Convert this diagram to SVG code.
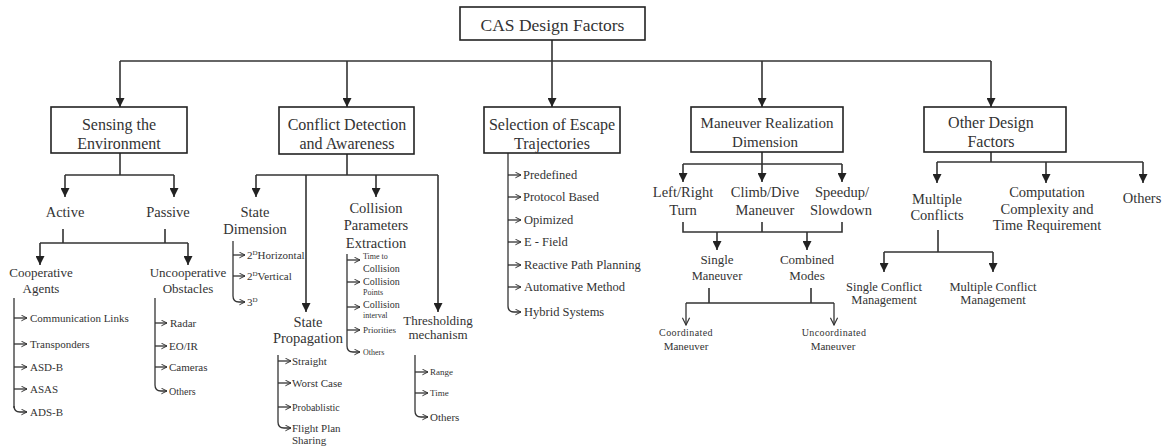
<svg xmlns="http://www.w3.org/2000/svg" width="1171" height="447" viewBox="0 0 1171 447">
<defs>
<marker id="tri" viewBox="0 0 10 10" refX="10" refY="5" markerWidth="9" markerHeight="9" markerUnits="userSpaceOnUse" orient="auto"><path d="M0,0 L10,5 L0,10 z" fill="#222"/></marker>
<marker id="chev" viewBox="0 0 10 10" refX="9" refY="5" markerWidth="7" markerHeight="7" markerUnits="userSpaceOnUse" orient="auto"><path d="M1,1 L9,5 L1,9" fill="none" stroke="#333" stroke-width="1.4"/></marker>
<marker id="vee" viewBox="0 0 10 10" refX="9" refY="5" markerWidth="9" markerHeight="9" markerUnits="userSpaceOnUse" orient="auto"><path d="M1,1 L9,5 L1,9" fill="none" stroke="#333" stroke-width="1.3"/></marker>
</defs>
<style>
text{font-family:"Liberation Serif","Times New Roman",serif;fill:#333;text-anchor:middle}
.box{fill:#fff;stroke:#222;stroke-width:1.6}
.ln{fill:none;stroke:#333;stroke-width:1.6}
.ar{fill:none;stroke:#333;stroke-width:1.6;marker-end:url(#tri)}
.li{fill:none;stroke:#333;stroke-width:1.3}
.la{fill:none;stroke:#333;stroke-width:1.3;marker-end:url(#chev)}
.va{fill:none;stroke:#333;stroke-width:1.3;marker-end:url(#vee)}
.b16{font-size:16px}
.t14{font-size:14.5px}
.t13{font-size:13px}
.t12{font-size:12.5px}
.t11{font-size:11px}
.t10{font-size:10px}
.t9{font-size:9px}
.t8{font-size:8px}
.l{text-anchor:start}
</style>

<g id="connectors">
<!-- top trunk -->
<path class="ar" d="M552 40 V107"/>
<path class="ln" d="M120 61 H991"/>
<path class="ar" d="M120 61 V107"/>
<path class="ar" d="M347 61 V107"/>
<path class="ar" d="M762 61 V107"/>
<path class="ar" d="M991 61 V107"/>
<!-- sensing -->
<path class="ln" d="M120 153 V175 M65 175 H174"/>
<path class="ar" d="M65 175 V197"/>
<path class="ar" d="M174 175 V197"/>
<path class="ln" d="M63 229 V243 M165 229 V243 M40 243 H188"/>
<path class="ar" d="M40 243 V265"/>
<path class="ar" d="M188 243 V265"/>
<path class="li" d="M14 298 V408"/>
<path class="la" d="M14 318 H27"/>
<path class="la" d="M14 344 H27"/>
<path class="la" d="M14 367 H27"/>
<path class="la" d="M14 389 H27"/>
<path class="la" d="M14 406 Q14 412 20 412 H27"/>
<path class="li" d="M155 298 V385"/>
<path class="la" d="M155 323 H167"/>
<path class="la" d="M155 346 H167"/>
<path class="la" d="M155 367 H167"/>
<path class="la" d="M155 385 Q155 391 161 391 H167"/>
<!-- conflict detection -->
<path class="ln" d="M347 154 V175 M256 175 H438"/>
<path class="ar" d="M256 175 V197"/>
<path class="ar" d="M376 175 V197"/>
<path class="ar" d="M306 175 V312"/>
<path class="ar" d="M438 175 V312"/>
<path class="li" d="M233 241 V296"/>
<path class="la" d="M233 255 H245"/>
<path class="la" d="M233 276 H245"/>
<path class="la" d="M233 296 Q233 302 239 302 H245"/>
<path class="li" d="M347 254 V346"/>
<path class="la" d="M347 260 H360"/>
<path class="la" d="M347 282 H360"/>
<path class="la" d="M347 307 H360"/>
<path class="la" d="M347 330 H360"/>
<path class="la" d="M347 346 Q347 352 353 352 H360"/>
<path class="li" d="M278 355 V422"/>
<path class="la" d="M278 361 H291"/>
<path class="la" d="M278 383 H291"/>
<path class="la" d="M278 407 H291"/>
<path class="la" d="M278 422 Q278 428 284 428 H291"/>
<path class="li" d="M415 355 V411"/>
<path class="la" d="M415 372 H428"/>
<path class="la" d="M415 393 H428"/>
<path class="la" d="M415 411 Q415 417 421 417 H428"/>
<!-- selection of escape -->
<path class="li" d="M508 153 V306"/>
<path class="la" d="M508 175 H521"/>
<path class="la" d="M508 197 H521"/>
<path class="la" d="M508 220 H521"/>
<path class="la" d="M508 242 H521"/>
<path class="la" d="M508 265 H521"/>
<path class="la" d="M508 287 H521"/>
<path class="la" d="M508 306 Q508 312 514 312 H521"/>
<!-- maneuver -->
<path class="ln" d="M762 152 V164 M683 164 H842"/>
<path class="ar" d="M683 164 V182"/>
<path class="ar" d="M762 164 V182"/>
<path class="ar" d="M842 164 V182"/>
<path class="ln" d="M683 222 V232 H842 V222 M762 232 V222"/>
<path class="ar" d="M717 232 V250"/>
<path class="ar" d="M807 232 V250"/>
<path class="ln" d="M709 288 V303 M811 288 V303 M686 303 H834"/>
<path class="va" d="M686 303 V325"/>
<path class="va" d="M834 303 V325"/>
<!-- other -->
<path class="ln" d="M991 152 V162 M937 162 H1143"/>
<path class="ar" d="M937 162 V183"/>
<path class="ar" d="M1046 162 V183"/>
<path class="ar" d="M1143 162 V183"/>
<path class="ln" d="M938 230 V252 M884 252 H993"/>
<path class="ar" d="M884 252 V272"/>
<path class="ar" d="M993 252 V272"/>
</g>

<g id="root"><rect class="box" x="460" y="7" width="185" height="33"/><text x="552.5" y="31" style="font-size:17.5px">CAS Design Factors</text></g>

<g id="sensing"><rect class="box" x="51" y="107" width="136" height="46"/><text class="b16" x="119" y="130">Sensing the</text><text class="b16" x="119" y="149">Environment</text></g>
<g id="conflict"><rect class="box" x="279" y="107" width="135" height="47"/><text class="b16" x="347" y="130">Conflict Detection</text><text class="b16" x="347" y="149">and Awareness</text></g>
<g id="selection"><rect class="box" x="484" y="107" width="136" height="46"/><text class="b16" x="552" y="130">Selection of Escape</text><text class="b16" x="552" y="149">Trajectories</text></g>
<g id="maneuver"><rect class="box" x="691" y="107" width="152" height="45"/><text x="767" y="128" style="font-size:15px">Maneuver Realization</text><text x="765" y="147" style="font-size:15px">Dimension</text></g>
<g id="other"><rect class="box" x="924" y="107" width="142" height="45"/><text class="b16" x="991" y="128">Other Design</text><text class="b16" x="991" y="147">Factors</text></g>

<g id="active"><text class="t14" x="65" y="217">Active</text></g>
<g id="passive"><text class="t14" x="168" y="217">Passive</text></g>
<g id="cooperative"><text class="t13" x="41" y="277">Cooperative</text><text class="t13" x="41" y="293">Agents</text></g>
<g id="uncooperative"><text class="t13" x="188" y="277">Uncooperative</text><text class="t13" x="188" y="293">Obstacles</text></g>
<g id="coop-list">
<text class="t11 l" x="30" y="322">Communication Links</text>
<text class="t11 l" x="30" y="348">Transponders</text>
<text class="t11 l" x="30" y="371">ASD-B</text>
<text class="t11 l" x="30" y="393">ASAS</text>
<text class="t11 l" x="30" y="416">ADS-B</text>
</g>
<g id="uncoop-list">
<text class="t11 l" x="170" y="327">Radar</text>
<text class="t11 l" x="169" y="350">EO/IR</text>
<text class="t11 l" x="169" y="371">Cameras</text>
<text class="t10 l" x="169" y="395">Others</text>
</g>

<g id="state-dim"><text class="t14" x="255" y="217">State</text><text class="t14" x="255" y="234">Dimension</text></g>
<g id="state-dim-list">
<text class="t11 l" x="247" y="259">2<tspan font-size="7" dy="-4">D</tspan><tspan dy="4">Horizontal</tspan></text>
<text class="t11 l" x="247" y="280">2<tspan font-size="7" dy="-4">D</tspan><tspan dy="4">Vertical</tspan></text>
<text class="t11 l" x="247" y="306">3<tspan font-size="7" dy="-4">D</tspan></text>
</g>
<g id="collision"><text class="t14" x="376" y="213">Collision</text><text class="t14" x="376" y="230">Parameters</text><text class="t14" x="376" y="248">Extraction</text></g>
<g id="collision-list">
<text class="t8 l" x="363" y="259">Time to</text>
<text class="t10 l" x="363" y="272">Collision</text>
<text class="t10 l" x="363" y="285">Collision</text>
<text class="t8 l" x="363" y="295">Points</text>
<text class="t10 l" x="363" y="308">Collision</text>
<text class="t8 l" x="363" y="318">interval</text>
<text class="t9 l" x="363" y="333">Priorities</text>
<text class="t8 l" x="363" y="355">Others</text>
</g>
<g id="state-prop"><text class="t14" x="308" y="327">State</text><text class="t14" x="308" y="343">Propagation</text></g>
<g id="state-prop-list">
<text class="t11 l" x="292" y="365">Straight</text>
<text class="t11 l" x="292" y="387">Worst Case</text>
<text class="t10 l" x="292" y="411">Probablistic</text>
<text class="t11 l" x="292" y="432">Flight Plan</text>
<text class="t11 l" x="292" y="444">Sharing</text>
</g>
<g id="threshold"><text class="t13" x="438" y="325">Thresholding</text><text class="t13" x="438" y="339">mechanism</text></g>
<g id="threshold-list">
<text class="t9 l" x="430" y="375">Range</text>
<text class="t9 l" x="430" y="396">Time</text>
<text class="t11 l" x="430" y="421">Others</text>
</g>

<g id="selection-list">
<text class="t12 l" x="523" y="179">Predefined</text>
<text class="t12 l" x="523" y="201">Protocol Based</text>
<text class="t12 l" x="524" y="224">Opimized</text>
<text class="t12 l" x="524" y="246">E - Field</text>
<text class="t12 l" x="524" y="269">Reactive Path Planning</text>
<text class="t12 l" x="524" y="291">Automative Method</text>
<text class="t12 l" x="524" y="316">Hybrid Systems</text>
</g>

<g id="left-right"><text class="t14" x="683" y="197">Left/Right</text><text class="t14" x="683" y="215">Turn</text></g>
<g id="climb-dive"><text class="t14" x="765" y="197">Climb/Dive</text><text class="t14" x="765" y="215">Maneuver</text></g>
<g id="speedup"><text class="t14" x="842" y="197">Speedup/</text><text class="t14" x="841" y="215">Slowdown</text></g>
<g id="single-man"><text class="t13" x="717" y="264">Single</text><text class="t12" x="717" y="280">Maneuver</text></g>
<g id="combined"><text class="t13" x="807" y="264">Combined</text><text class="t13" x="807" y="280">Modes</text></g>
<g id="coordinated"><text class="t10" x="686" y="336" style="letter-spacing:0.4px">Coordinated</text><text class="t11" x="686" y="350">Maneuver</text></g>
<g id="uncoordinated"><text class="t10" x="834" y="336" style="letter-spacing:0.4px">Uncoordinated</text><text class="t11" x="833" y="350">Maneuver</text></g>

<g id="multiple"><text class="t14" x="937" y="204">Multiple</text><text class="t14" x="937" y="220">Conflicts</text></g>
<g id="computation"><text class="t14" x="1047" y="197">Computation</text><text class="t14" x="1047" y="214">Complexity and</text><text class="t14" x="1047" y="230">Time Requirement</text></g>
<g id="others"><text class="t14" x="1142" y="203">Others</text></g>
<g id="single-conf"><text class="t12" x="884" y="291">Single Conflict</text><text class="t12" x="884" y="304">Management</text></g>
<g id="multi-conf"><text class="t12" x="993" y="291">Multiple Conflict</text><text class="t12" x="993" y="304">Management</text></g>
</svg>
